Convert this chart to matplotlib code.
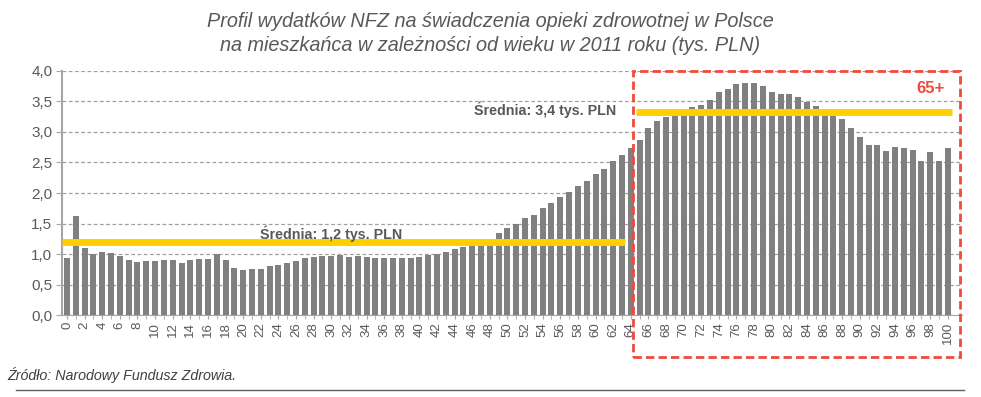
import numpy as np
import matplotlib.pyplot as plt
from matplotlib.patches import Rectangle
from matplotlib.lines import Line2D

plt.rcParams['font.family'] = ['Liberation Sans', 'DejaVu Sans']

# age 0..100, NFZ spending per inhabitant (tys. PLN)
ages = list(range(101))
spending = [
    0.94, 1.63, 1.10, 1.00, 1.03, 1.02, 0.97, 0.90, 0.87, 0.88,
    0.89, 0.91, 0.90, 0.86, 0.91, 0.92, 0.92, 1.00, 0.90, 0.77,
    0.74, 0.75, 0.76, 0.81, 0.82, 0.86, 0.89, 0.93, 0.95, 0.97,
    0.97, 0.98, 0.95, 0.96, 0.95, 0.94, 0.93, 0.93, 0.93, 0.93,
    0.95, 0.98, 1.00, 1.04, 1.08, 1.12, 1.17, 1.20, 1.25, 1.34,
    1.42, 1.49, 1.59, 1.64, 1.75, 1.83, 1.94, 2.01, 2.11, 2.19,
    2.31, 2.40, 2.52, 2.63, 2.74, 2.87, 3.06, 3.18, 3.25, 3.30,
    3.34, 3.41, 3.45, 3.52, 3.65, 3.70, 3.78, 3.80, 3.80, 3.75,
    3.66, 3.62, 3.62, 3.58, 3.49, 3.42, 3.34, 3.30, 3.22, 3.06,
    2.91, 2.78, 2.78, 2.69, 2.76, 2.74, 2.71, 2.52, 2.68, 2.53,
    2.74,
]
mean_young = 1.19
mean_old = 3.32

fig = plt.figure(figsize=(9.81, 3.97), dpi=100)
ax = fig.add_axes([0.0632, 0.2065, 0.9174, 0.6147])

ax.bar(ages, spending, width=0.68, color='#808080', zorder=2)

# mean lines
ax.plot([-0.57, 63.4], [mean_young, mean_young], color='#FFD000', lw=5, zorder=3, solid_capstyle='butt')
ax.plot([64.6, 100.5], [mean_old, mean_old], color='#FFD000', lw=5, zorder=3, solid_capstyle='butt')
ax.text(30, 1.34, 'Średnia: 1,2 tys. PLN', ha='center', va='center', fontsize=10.3,
        fontweight='bold', color='#595959', zorder=4)
ax.text(62.4, 3.36, 'Średnia: 3,4 tys. PLN', ha='right', va='center', fontsize=10.3,
        fontweight='bold', color='#595959', zorder=4)

# 65+ box
box = Rectangle((64.25, -0.69), 37.15, 4.69, fill=False, edgecolor='#F04A3A', lw=2,
                linestyle=(0, (3, 1.5)), clip_on=False, zorder=5)
ax.add_patch(box)
ax.text(98, 3.72, '65+', ha='center', va='center', fontsize=12, fontweight='bold', color='#F04A3A')

ax.set_xlim(-0.57, 101.6)
ax.set_ylim(0, 4.0)
ax.set_yticks(np.arange(0, 4.01, 0.5))
ax.set_yticklabels([f'{v:.1f}'.replace('.', ',') for v in np.arange(0, 4.01, 0.5)],
                   fontsize=11, color='#595959')
ax.set_xticks(ages[::2])
ax.set_xticklabels([str(a) for a in ages[::2]], rotation=90, fontsize=9.5, color='#595959')
ax.set_xticks(ages, minor=True)
ax.tick_params(axis='x', which='both', length=3, color='#A6A6A6', pad=2)
ax.tick_params(axis='y', length=4, color='#A6A6A6', pad=3)

ax.grid(axis='y', linestyle=(0, (3, 2)), color='#A0A0A0', lw=0.9, zorder=0)
for s in ['top', 'right']:
    ax.spines[s].set_visible(False)
ax.spines['left'].set_color('#A6A6A6')
ax.spines['left'].set_linewidth(1.5)
ax.spines['bottom'].set_color('#A6A6A6')

fig.text(0.5, 0.915, 'Profil wydatków NFZ na świadczenia opieki zdrowotnej w Polsce\n'
         'na mieszkańca w zależności od wieku w 2011 roku (tys. PLN)',
         ha='center', va='center', fontsize=14.3, style='italic', color='#595959', linespacing=1.3)

fig.text(0.007, 0.055, 'Źródło: Narodowy Fundusz Zdrowia.', ha='left', va='center', fontsize=10.3,
         style='italic', color='#404040')
fig.add_artist(Line2D([0.016, 0.983], [0.018, 0.018], color='#606060', lw=1, transform=fig.transFigure))

fig.savefig('out.png', dpi=100)
